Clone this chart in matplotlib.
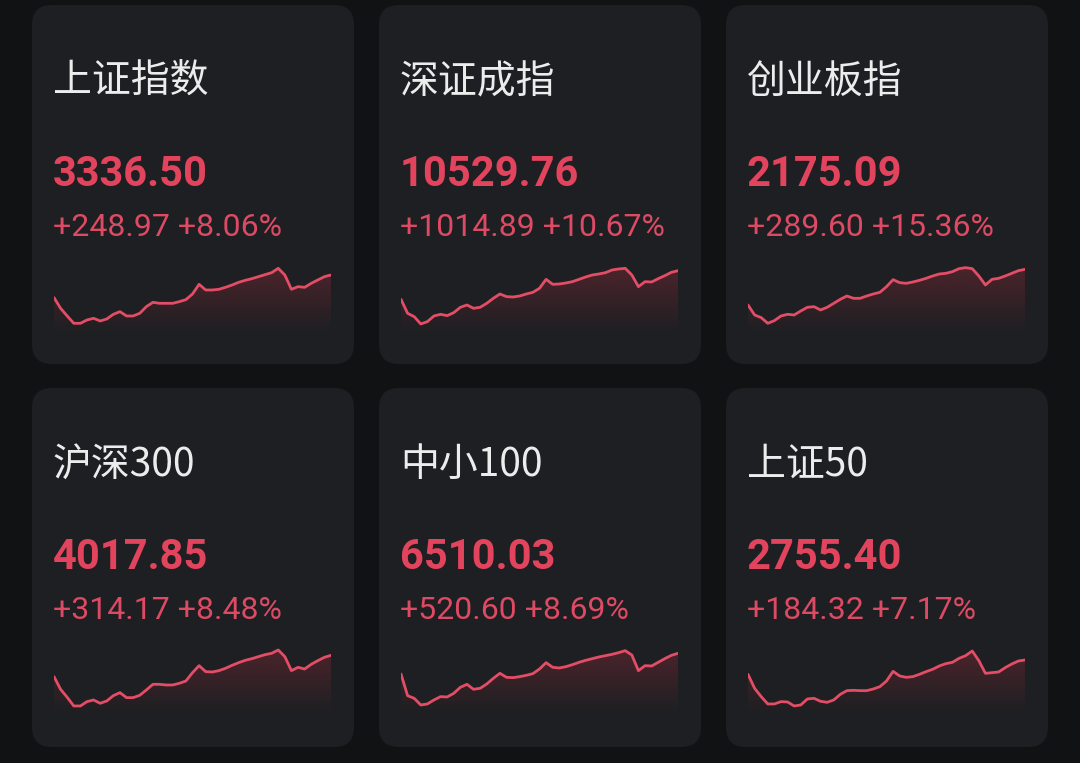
import numpy as np
import matplotlib
matplotlib.use("Agg")
import matplotlib.pyplot as plt
from matplotlib.patches import FancyBboxPatch

# ---------------- data ----------------
names = ["上证指数", "深证成指", "创业板指", "沪深300", "中小100", "上证50"]
prices = ["3336.50", "10529.76", "2175.09", "4017.85", "6510.03", "2755.40"]
changes = ["+248.97", "+1014.89", "+289.60", "+314.17", "+520.60", "+184.32"]
pcts = ["+8.06%", "+10.67%", "+15.36%", "+8.48%", "+8.69%", "+7.17%"]

# intraday sparkline levels (relative units)
spark_sh = [97, 65, 42, 20, 20, 30, 35, 27, 33, 47, 55, 42, 42, 50, 70, 83, 80, 80, 80, 85, 91,
            108, 137, 120, 120, 122, 128, 135, 143, 149, 154, 160, 166, 172, 185, 165, 122, 130,
            128, 140, 150, 160, 165]
spark_sz = [92, 50, 40, 18, 25, 42, 47, 43, 52, 68, 75, 65, 68, 80, 95, 108, 100, 99, 102, 108,
            113, 125, 152, 137, 138, 141, 145, 152, 159, 165, 168, 172, 180, 183, 185, 165, 130,
            145, 144, 154, 163, 173, 178]
spark_cyb = [75, 45, 37, 20, 28, 42, 47, 45, 57, 68, 70, 60, 68, 80, 92, 102, 95, 95, 102, 108,
             113, 130, 151, 142, 140, 144, 149, 155, 162, 168, 170, 175, 184, 187, 184, 162, 135,
             152, 155, 162, 170, 178, 182]
spark_hs300 = [100, 62, 38, 12, 12, 25, 30, 20, 27, 43, 52, 37, 37, 44, 60, 77, 77, 75, 75, 80,
               87, 112, 133, 115, 114, 118, 125, 134, 142, 149, 154, 160, 166, 170, 180, 160, 118,
               128, 123, 137, 148, 158, 164]
spark_zx100 = [108, 43, 35, 15, 18, 30, 40, 39, 50, 68, 77, 62, 65, 78, 95, 110, 98, 97, 100,
               104, 109, 123, 142, 128, 126, 130, 136, 143, 149, 154, 159, 163, 167, 172, 178, 165,
               118, 133, 132, 143, 154, 164, 170]
spark_sz50 = [107, 65, 40, 18, 18, 25, 24, 12, 15, 33, 35, 26, 23, 30, 47, 58, 59, 58, 58, 63,
              70, 87, 116, 102, 98, 100, 107, 115, 122, 132, 139, 143, 155, 163, 177, 148, 110,
              112, 114, 127, 138, 147, 150]
sparks = [spark_sh, spark_sz, spark_cyb, spark_hs300, spark_zx100, spark_sz50]

# ---------------- style ----------------
W, H = 1080, 763
BG = "#111214"
CARD = "#1e1f22"
RED = "#e2445e"
SUBRED = "#dc4a63"
LINE = "#e44d66"
WHITE = "#ececec"

plt.rcParams["font.family"] = ["Noto Sans CJK SC", "DejaVu Sans"]

fig = plt.figure(figsize=(W / 100, H / 100), dpi=100, facecolor=BG)
bg = fig.add_axes([0, 0, 1, 1])
bg.set_xlim(0, W)
bg.set_ylim(H, 0)
bg.axis("off")
bg.set_facecolor(BG)

card_x = [32, 379, 726]
card_y = [5, 388]
card_w, card_h = 322, 359
row_off = [0, 383]
spark_top = [250, 630]

for i in range(6):
    r, c = divmod(i, 3)
    x0, y0 = card_x[c], card_y[r]
    bg.add_patch(FancyBboxPatch((x0, y0), card_w, card_h,
                                boxstyle="round,pad=0,rounding_size=20",
                                facecolor=CARD, edgecolor="none"))
    tx = x0 + 21
    bg.text(tx, 93 + row_off[r], names[i], color=WHITE, fontsize=28,
            family=["Noto Sans CJK SC", "DejaVu Sans"], va="baseline", ha="left")
    bg.text(tx, 186 + row_off[r], prices[i], color=RED, fontsize=30, fontweight="bold",
            family=["Roboto", "DejaVu Sans"], va="baseline", ha="left")
    bg.text(tx, 236 + row_off[r], changes[i] + " " + pcts[i], color=SUBRED, fontsize=23,
            fontweight="normal", family=["Roboto", "DejaVu Sans"], va="baseline", ha="left")

    # sparkline axes
    left = x0 + 22
    right = x0 + 299
    top = spark_top[r]
    bottom = top + 83.3
    ax = fig.add_axes([left / W, 1 - bottom / H, (right - left) / W, (bottom - top) / H])
    ax.axis("off")
    ax.patch.set_alpha(0)
    vals = np.array(sparks[i], dtype=float)
    xs = np.arange(len(vals))
    ax.set_xlim(0, len(vals) - 1)
    ax.set_ylim(-10, 240)
    # gradient fill under the line
    grad = np.zeros((100, 1, 4))
    grad[..., 0] = 0.80
    grad[..., 1] = 0.20
    grad[..., 2] = 0.28
    grad[..., 3] = np.linspace(0.26, 0.0, 100)[:, None]
    poly = ax.fill_between(xs, vals, -10, facecolor="none", edgecolor="none")
    im = ax.imshow(grad, aspect="auto", extent=[0, len(vals) - 1, -10, vals.max()],
                   origin="upper", zorder=1)
    im.set_clip_path(poly.get_paths()[0], transform=ax.transData)
    ax.plot(xs, vals, color=LINE, lw=2.0, solid_joinstyle="round", solid_capstyle="round",
            zorder=3)

fig.savefig("out.png", dpi=100, facecolor=BG)
